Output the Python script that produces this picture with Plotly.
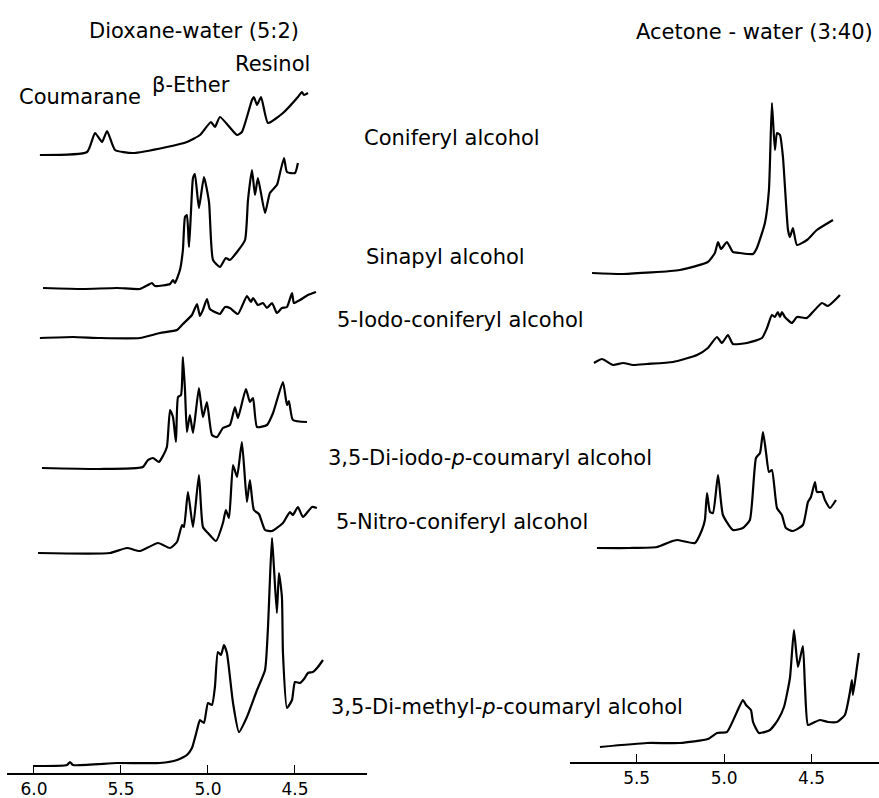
import numpy as np
import plotly.graph_objects as go

# ---------------- data: chemical shift (ppm) and relative intensity ----------------
# Dioxane-water (5:2) panel
dw_coniferyl_ppm = [5.966, 5.695, 5.649, 5.609, 5.580, 5.534, 5.431, 5.236, 5.121, 5.046, 4.983, 4.960,
                    4.931, 4.833, 4.805, 4.747, 4.736, 4.718, 4.695, 4.655, 4.569, 4.483, 4.460, 4.448, 4.425]
dw_coniferyl_int = [0, 3, 22, 13, 24, 5, 2, 8, 13, 20, 33, 28,
                    38, 20, 23, 55, 58, 50, 58, 32, 42, 58, 63, 60, 62]

dw_sinapyl_ppm = [5.948, 5.718, 5.523, 5.391, 5.345, 5.322, 5.305, 5.218, 5.201, 5.190, 5.161, 5.144,
                  5.132, 5.121, 5.109, 5.098, 5.086, 5.075, 5.052, 5.023, 4.994, 4.971, 4.931, 4.897,
                  4.874, 4.833, 4.787, 4.770, 4.747, 4.730, 4.713, 4.672, 4.644, 4.604, 4.598, 4.563,
                  4.546, 4.500, 4.483]
dw_sinapyl_int = [0, -1, 0, -1, 3, 5, 2, 4, 8, 5, 18, 38,
                  71, 73, 41, 75, 110, 114, 80, 111, 86, 28, 21, 30,
                  28, 36, 48, 88, 118, 93, 110, 75, 95, 103, 106, 130,
                  116, 115, 125]

dw_iodo_ppm = [5.966, 5.776, 5.621, 5.391, 5.276, 5.178, 5.144, 5.092, 5.063, 5.046, 5.029, 5.006,
               4.989, 4.948, 4.931, 4.902, 4.874, 4.828, 4.776, 4.753, 4.741, 4.713, 4.684, 4.661,
               4.632, 4.604, 4.575, 4.546, 4.517, 4.506, 4.471, 4.425, 4.379]
dw_iodo_int = [0, 1, 0, 0, 5, 8, 14, 23, 34, 22, 28, 39,
               29, 25, 24, 31, 30, 24, 42, 36, 40, 33, 35, 30,
               35, 25, 30, 31, 45, 35, 38, 43, 46]

dw_diiodo_ppm = [5.954, 5.621, 5.374, 5.345, 5.316, 5.282, 5.259, 5.236, 5.218, 5.201, 5.184, 5.172,
                 5.155, 5.144, 5.132, 5.121, 5.104, 5.086, 5.052, 5.029, 5.006, 4.977, 4.948, 4.914,
                 4.874, 4.845, 4.828, 4.782, 4.759, 4.741, 4.718, 4.661, 4.626, 4.569, 4.546, 4.535,
                 4.512, 4.431]
dw_diiodo_int = [0, -1, 1, 8, 10, 6, 12, 21, 58, 51, 26, 71,
                 73, 111, 78, 36, 53, 35, 80, 51, 66, 33, 31, 40,
                 43, 61, 50, 79, 66, 70, 41, 43, 55, 86, 63, 67,
                 48, 46]

dw_nitro_ppm = [5.977, 5.563, 5.466, 5.391, 5.287, 5.218, 5.178, 5.149, 5.138, 5.115, 5.086, 5.052,
                5.029, 5.000, 4.954, 4.914, 4.897, 4.879, 4.856, 4.833, 4.805, 4.776, 4.759, 4.736,
                4.707, 4.672, 4.632, 4.569, 4.529, 4.512, 4.483, 4.454, 4.402, 4.374]
dw_nitro_int = [0, 0, 5, 2, 10, 5, 11, 28, 26, 61, 26, 78,
                26, 20, 12, 30, 43, 35, 88, 76, 111, 51, 73, 43,
                39, 23, 22, 30, 41, 38, 46, 36, 46, 45]

dw_dimethyl_ppm = [6.000, 5.810, 5.793, 5.776, 5.523, 5.276, 5.178, 5.121, 5.092, 5.063, 5.046, 5.023,
                   5.000, 4.977, 4.960, 4.943, 4.925, 4.908, 4.891, 4.856, 4.822, 4.776, 4.718, 4.672,
                   4.655, 4.644, 4.632, 4.621, 4.604, 4.592, 4.575, 4.569, 4.546, 4.517, 4.500, 4.471,
                   4.448, 4.425, 4.397, 4.368, 4.339]
dw_dimethyl_int = [-1, 0, 3, 0, 2, 2, 5, 10, 17, 35, 45, 42,
                   62, 60, 78, 113, 110, 120, 112, 62, 33, 48, 75, 95,
                   138, 185, 227, 198, 152, 192, 168, 112, 57, 65, 83, 82,
                   86, 92, 93, 98, 105]

# Acetone-water (3:40) panel
aw_coniferyl_ppm = [5.755, 5.578, 5.253, 5.093, 5.053, 5.035, 5.018, 4.984, 4.950, 4.910, 4.835, 4.813,
                    4.767, 4.744, 4.727, 4.710, 4.698, 4.681, 4.664, 4.635, 4.624, 4.607, 4.584, 4.527,
                    4.470, 4.378]
aw_coniferyl_int = [0, -1, 3, 11, 20, 31, 24, 31, 21, 20, 19, 25,
                    50, 83, 170, 123, 140, 138, 116, 43, 36, 45, 28, 33,
                    43, 53]

aw_sinapyl_ppm = [5.744, 5.698, 5.635, 5.578, 5.521, 5.441, 5.293, 5.155, 5.093, 5.041, 5.013, 4.978,
                  4.950, 4.870, 4.784, 4.755, 4.727, 4.710, 4.693, 4.681, 4.670, 4.653, 4.613, 4.584,
                  4.527, 4.493, 4.441, 4.407, 4.338]
aw_sinapyl_int = [1, 5, -1, 1, -1, 0, 2, 9, 16, 27, 21, 29,
                  20, 21, 26, 36, 49, 47, 52, 47, 52, 47, 41, 47,
                  46, 52, 61, 58, 69]

aw_nitro_ppm = [5.727, 5.538, 5.384, 5.310, 5.270, 5.167, 5.127, 5.110, 5.098, 5.081, 5.064, 5.035,
                5.007, 4.950, 4.893, 4.853, 4.818, 4.795, 4.778, 4.761, 4.744, 4.727, 4.698, 4.670,
                4.647, 4.607, 4.550, 4.521, 4.504, 4.481, 4.470, 4.441, 4.424, 4.395, 4.361]
aw_nitro_int = [0, 0, 1, 6, 8, 5, 18, 28, 55, 36, 35, 73,
                33, 18, 20, 28, 90, 95, 116, 96, 76, 78, 40, 33,
                20, 17, 23, 46, 51, 66, 56, 56, 48, 40, 48]

aw_dimethyl_ppm = [5.710, 5.441, 5.253, 5.093, 5.041, 4.984, 4.927, 4.893, 4.875, 4.847, 4.835, 4.801,
                   4.738, 4.693, 4.658, 4.624, 4.601, 4.578, 4.550, 4.538, 4.521, 4.493, 4.453, 4.407,
                   4.355, 4.310, 4.281, 4.270, 4.264, 4.241, 4.230]
aw_dimethyl_int = [0, 4, 4, 8, 14, 15, 35, 47, 42, 37, 25, 14,
                   17, 27, 40, 69, 117, 80, 101, 60, 22, 24, 27, 25,
                   25, 32, 55, 67, 52, 80, 94]

tick_vals = [6.0, 5.5, 5.0, 4.5]
tick_text = ["6.0", "5.5", "5.0", "4.5"]

# ---------------- layout / stacking (presentation only) ----------------
W, H = 879, 798
left_stack = [  # (ppm, intensity, vertical offset)
    (dw_coniferyl_ppm, dw_coniferyl_int, 618),
    (dw_sinapyl_ppm, dw_sinapyl_int, 485),
    (dw_iodo_ppm, dw_iodo_int, 435),
    (dw_diiodo_ppm, dw_diiodo_int, 305),
    (dw_nitro_ppm, dw_nitro_int, 220),
    (dw_dimethyl_ppm, dw_dimethyl_int, 8),
]
right_stack = [
    (aw_coniferyl_ppm, aw_coniferyl_int, 489),
    (aw_sinapyl_ppm, aw_sinapyl_int, 398),
    (aw_nitro_ppm, aw_nitro_int, 214),
    (aw_dimethyl_ppm, aw_dimethyl_int, 15),
]

fig = go.Figure()
line = dict(color="black", width=2.2, shape="spline", smoothing=0.5)
for xs, ys, off in left_stack:
    fig.add_trace(go.Scatter(x=xs, y=np.array(ys) + off, mode="lines", line=line,
                             xaxis="x", yaxis="y", showlegend=False, hoverinfo="skip"))
for xs, ys, off in right_stack:
    fig.add_trace(go.Scatter(x=xs, y=np.array(ys) + off, mode="lines", line=line,
                             xaxis="x2", yaxis="y2", showlegend=False, hoverinfo="skip"))

FONT = "DejaVu Sans"
axis_common = dict(showline=True, linecolor="black", linewidth=1.6, showgrid=False, zeroline=False,
                   ticks="inside", ticklen=8, tickwidth=1.4, tickcolor="black",
                   tickvals=tick_vals, ticktext=tick_text,
                   tickfont=dict(family=FONT, size=17, color="black"), fixedrange=True)

fig.update_layout(
    width=W, height=H, margin=dict(l=0, r=0, t=0, b=0),
    paper_bgcolor="white", plot_bgcolor="white",
    xaxis=dict(domain=[7 / W, 367 / W], range=[6.155, 4.086], anchor="y", **axis_common),
    xaxis2=dict(domain=[570 / W, 1.0], range=[5.881, 4.115], anchor="y2", **axis_common),
    yaxis=dict(domain=[25 / H, 1], range=[0, 773], visible=False, fixedrange=True),
    yaxis2=dict(domain=[36 / H, 1], range=[0, 762], visible=False, fixedrange=True),
)

labels = [
    ("Dioxane-water (5:2)", 194, 31),
    ("Acetone - water (3:40)", 754, 32),
    ("Resinol", 272, 64),
    ("β-Ether", 191, 85),
    ("Coumarane", 80, 97),
    ("Coniferyl alcohol", 452, 138),
    ("Sinapyl alcohol", 445, 257),
    ("5-Iodo-coniferyl alcohol", 460, 320),
    ("3,5-Di-iodo-<i>p</i>-coumaryl alcohol", 490, 458),
    ("5-Nitro-coniferyl alcohol", 462, 522),
    ("3,5-Di-methyl-<i>p</i>-coumaryl alcohol", 507, 707),
]
for text, px, py in labels:
    fig.add_annotation(text=text, x=px / W, y=1 - py / H, xref="paper", yref="paper",
                       xanchor="center", yanchor="middle", showarrow=False,
                       font=dict(family=FONT, size=21, color="black"))

fig.write_html("out.html", config={"displayModeBar": False},
               post_script="document.body.style.margin='0px';document.body.style.overflow='hidden';")
